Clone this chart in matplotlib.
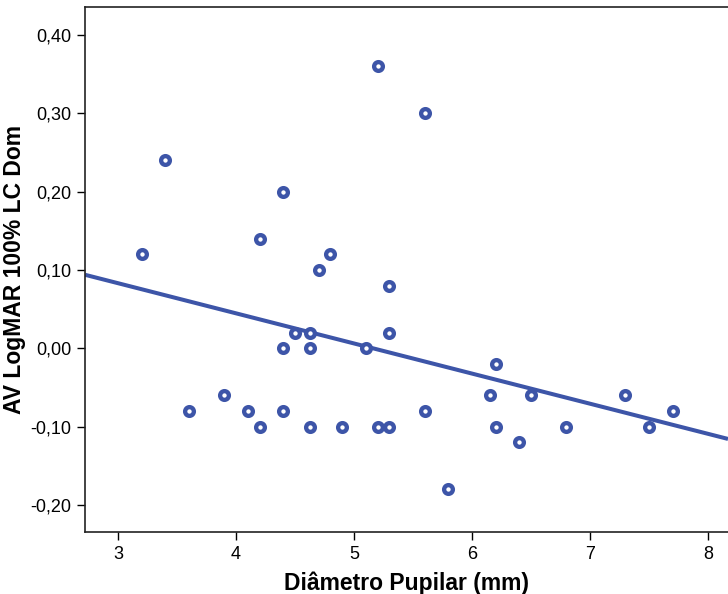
import numpy as np
import matplotlib
matplotlib.use("Agg")
import matplotlib.pyplot as plt
from matplotlib.ticker import FuncFormatter

# Pupil diameter (mm) and LogMAR visual acuity, 100% contrast, dominant eye
diametro = [3.2, 3.4, 3.6, 3.9, 4.1, 4.2, 4.2, 4.4, 4.4, 4.4,
            4.5, 4.63, 4.63, 4.63, 4.7, 4.8, 4.9, 5.1, 5.2, 5.2,
            5.3, 5.3, 5.3, 5.6, 5.6, 5.8, 6.15, 6.2, 6.2, 6.4,
            6.5, 6.8, 7.3, 7.5, 7.7]
logmar = [0.12, 0.24, -0.08, -0.06, -0.08, -0.10, 0.14, 0.20, 0.00, -0.08,
          0.02, 0.02, 0.00, -0.10, 0.10, 0.12, -0.10, 0.00, 0.36, -0.10,
          0.08, 0.02, -0.10, 0.30, -0.08, -0.18, -0.06, -0.02, -0.10, -0.12,
          -0.06, -0.10, -0.06, -0.10, -0.08]

x_ticks = [3, 4, 5, 6, 7, 8]
y_ticks = [-0.20, -0.10, 0.00, 0.10, 0.20, 0.30, 0.40]

plt.rcParams["font.family"] = ["Liberation Sans", "DejaVu Sans"]
blue = "#3d55a8"

fig = plt.figure(figsize=(7.28, 5.94), dpi=100)
ax = fig.add_axes([85 / 728, 1 - 532 / 594, 1 - 85 / 728, 525 / 594])

xlim = (2.72, 8.17)
ylim = (-0.2344, 0.4357)

# least-squares fit line across the full x range
slope, intercept = np.polyfit(diametro, logmar, 1)
xs = np.array(xlim)
ax.plot(xs, intercept + slope * xs, color=blue, lw=2.9, zorder=2,
        solid_capstyle="butt")

ax.plot(diametro, logmar, linestyle="none", marker="o", markersize=6.3,
        markeredgewidth=3.1, markeredgecolor=blue, markerfacecolor="white",
        zorder=3)

ax.set_xlim(*xlim)
ax.set_ylim(*ylim)
ax.set_xticks(x_ticks)
ax.set_yticks(y_ticks)
ax.yaxis.set_major_formatter(FuncFormatter(lambda v, p: f"{v:.2f}".replace(".", ",").replace("-0,00", "0,00")))
ax.tick_params(axis="both", direction="out", length=6, width=1, labelsize=13,
               color="black", labelcolor="black", pad=4)

for s in ["left", "bottom", "top"]:
    ax.spines[s].set_linewidth(1.2)
    ax.spines[s].set_color("#222222")
ax.spines["right"].set_visible(False)

ax.set_xlabel("Diâmetro Pupilar (mm)", fontsize=16.5, fontweight="bold", labelpad=6)
ax.set_ylabel("AV LogMAR 100% LC Dom", fontsize=16.5, fontweight="bold", labelpad=3)

fig.savefig("out.png", dpi=100)
